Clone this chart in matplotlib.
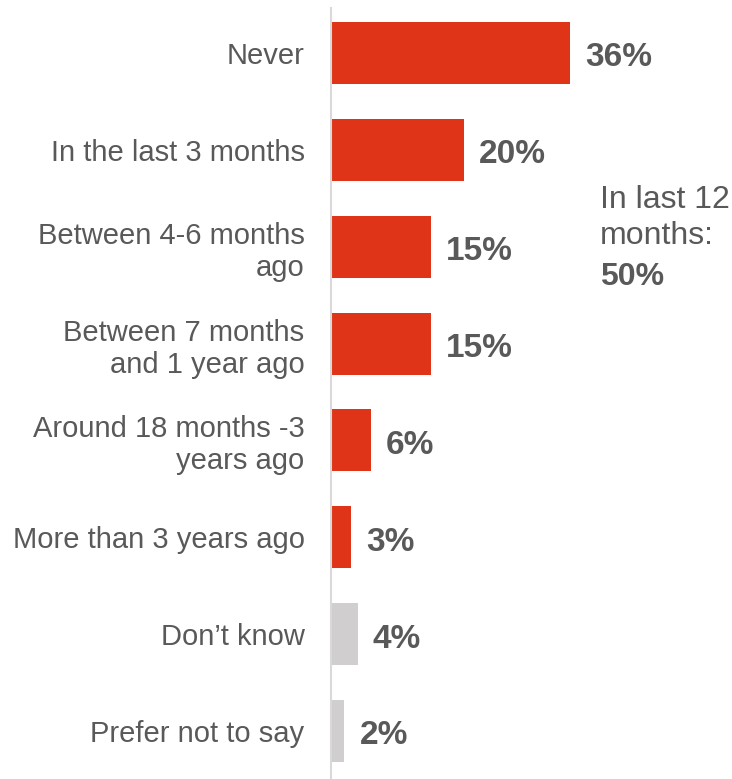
import matplotlib.pyplot as plt

plt.rcParams["font.family"] = ["Liberation Sans", "DejaVu Sans"]

# Survey responses: when did you last ...
categories = [
    "Never",
    "In the last 3 months",
    "Between 4-6 months\nago",
    "Between 7 months\nand 1 year ago",
    "Around 18 months -3\nyears ago",
    "More than 3 years ago",
    "Don\u2019t know",
    "Prefer not to say",
]
values = [36, 20, 15, 15, 6, 3, 4, 2]
non_answers = ["Don\u2019t know", "Prefer not to say"]
last_12_months = ["In the last 3 months", "Between 4-6 months\nago", "Between 7 months\nand 1 year ago"]

RED = "#E03419"
GREY = "#D0CECE"
TEXT = "#595959"

W, H = 732, 779
fig = plt.figure(figsize=(W / 100, H / 100), dpi=100)
# axes placed in pixel terms: left spine at x=331, from y=8 to the bottom
ax = fig.add_axes([331 / W, 0, 1 - 331 / W, 1 - 8 / H])

colors = [GREY if c in non_answers else RED for c in categories]
ypos = list(range(len(categories)))
ax.barh(ypos, values, height=0.64, color=colors)

for y, v in zip(ypos, values):
    ax.annotate(f"{v}%", xy=(v, y), xytext=(11, -3.5), textcoords="offset points",
                ha="left", va="center", fontsize=24, fontweight="bold", color=TEXT)

ax.set_xlim(0, (W - 331) / 6.64)
ax.set_ylim(len(categories) - 0.505, -0.464)
ax.set_yticks(ypos)
ax.set_yticklabels(categories, fontsize=21, color=TEXT, linespacing=1.18)
ax.tick_params(axis="y", length=0, pad=19)
ax.set_xticks([])

for s in ["top", "right", "bottom"]:
    ax.spines[s].set_visible(False)
ax.spines["left"].set_color("#D9D9D9")
ax.spines["left"].set_linewidth(1.5)

total_12 = sum(v for c, v in zip(categories, values) if c in last_12_months)
fig.text(600 / W, 1 - 200 / H, "In last 12", fontsize=23, color=TEXT, va="center", ha="left")
fig.text(600 / W, 1 - 236 / H, "months:", fontsize=23, color=TEXT, va="center", ha="left")
fig.text(600 / W, 1 - 277 / H, f"{total_12}%", fontsize=23, fontweight="bold",
         color=TEXT, va="center", ha="left")

fig.savefig("out.png", dpi=100)
